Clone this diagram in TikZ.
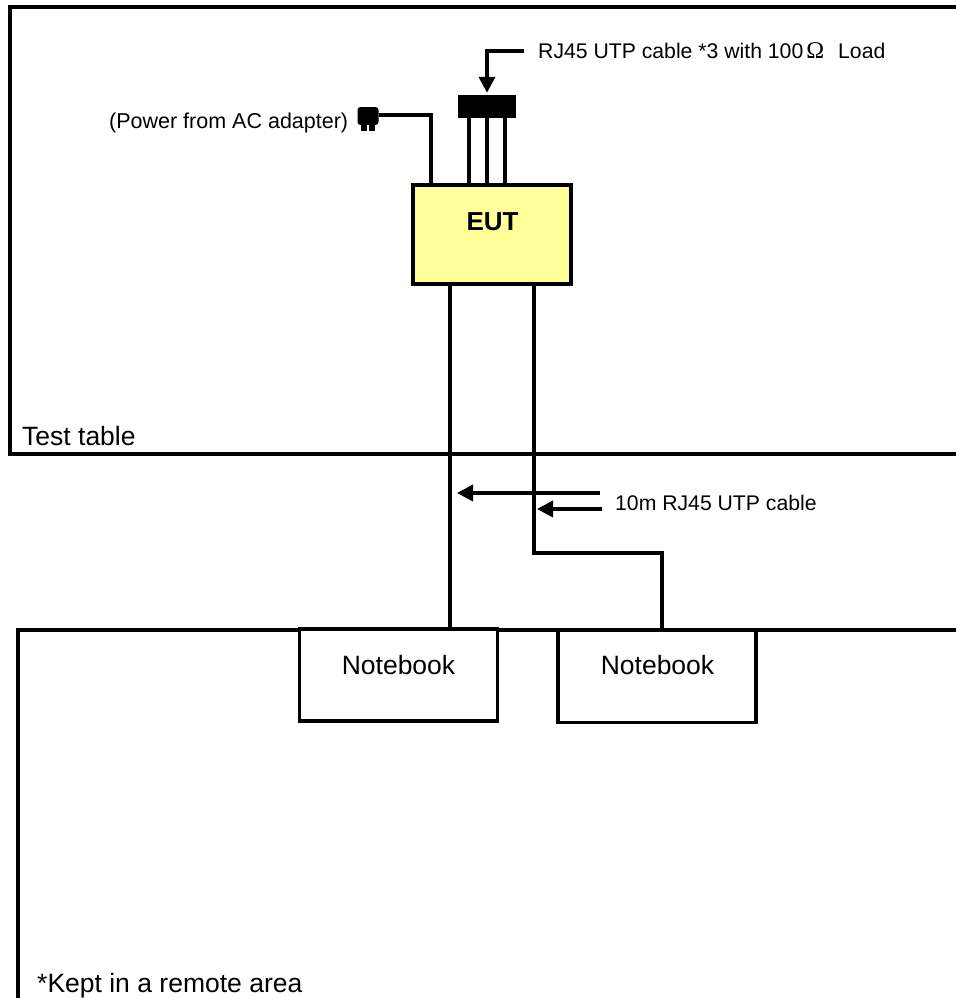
\documentclass[tikz,border=0pt]{standalone}
\usepackage{fontspec}
\setmainfont{Liberation Sans}
\newfontfamily\symbfont{Liberation Serif}
\usetikzlibrary{arrows.meta}
\definecolor{eutyellow}{HTML}{FFFF99}

\begin{document}
\begin{tikzpicture}[x=1pt, y=-1pt,
    every node/.style={font=\fontsize{21.2}{25}\selectfont, inner sep=0pt},
    biglabel/.style={font=\fontsize{26.5}{30}\selectfont},
    wire/.style={line width=4pt, line join=miter},
    area/.style={line width=4.4pt},
    pointer/.style={line width=3.6pt, -{Triangle[length=16pt, width=16pt]}},
    unitbox/.style={draw, line width=3.6pt, fill=white, minimum width=198pt, minimum height=92pt}]
    \useasboundingbox (0,0) rectangle (956,998);

    % Areas
    \coordinate (tabletopright) at (956,7);
    \coordinate (tabletopleft) at (10,7);
    \coordinate (tablebottomleft) at (10,454);
    \coordinate (tablebottomright) at (956,454);
    \coordinate (remotetopright) at (956,630);
    \coordinate (remotetopleft) at (18,630);
    \coordinate (remotebottomleft) at (18,998);
    \draw[area] (tabletopright) -- (tabletopleft) -- (tablebottomleft) -- (tablebottomright);
    \draw[area] (remotetopright) -- (remotetopleft) -- (remotebottomleft);
    \node[biglabel, anchor=base west] (tablelabel) at (22,445) {Test table};
    \node[biglabel, anchor=base west] (remotelabel) at (37,992) {*Kept in a remote area};

    % Units
    \node[draw, line width=3.6pt, fill=eutyellow, minimum width=158pt, minimum height=99pt] (eut) at (492,234.5) {};
    \node[anchor=base, font=\fontsize{26}{30}\selectfont\bfseries] (eutlabel) at (492.5,230) {EUT};
    \node[unitbox] (notebooka) at (398.5,675) {};
    \node[unitbox] (notebookb) at (657,676.5) {};
    \node[biglabel, anchor=base] (notebookalabel) at (398.5,674) {Notebook};
    \node[biglabel, anchor=base] (notebookblabel) at (657.5,674) {Notebook};

    % Load and plug
    \node[fill=black, minimum width=58pt, minimum height=23pt] (load) at (487,106.5) {};
    \node[fill=black, rounded corners=3pt, minimum width=21pt, minimum height=18pt] (plug) at (368,116) {};
    \node[fill=black, minimum width=6pt, minimum height=8pt] (pina) at (363.5,127) {};
    \node[fill=black, minimum width=6pt, minimum height=8pt] (pinb) at (371.5,127) {};

    % Cables
    \coordinate (powerdrop) at (431,115);
    \coordinate (loadleft) at (469,0);
    \coordinate (loadright) at (505,0);
    \coordinate (cablea) at (450,0);
    \coordinate (cableb) at (534,0);
    \coordinate (cablebbendl) at (534,553);
    \coordinate (cablebbendr) at (662,553);
    \draw[wire] (plug.east |- powerdrop) -- (powerdrop) -- (eut.north -| powerdrop);
    \draw[wire] (load.south -| loadleft) -- (eut.north -| loadleft);
    \draw[wire] (load.south) -- (eut.north -| load.south);
    \draw[wire] (load.south -| loadright) -- (eut.north -| loadright);
    \draw[wire, shorten >=-3pt] (eut.south -| cablea) -- (notebooka.north -| cablea);
    \draw[wire] (eut.south -| cableb) -- (cablebbendl) -- (cablebbendr) -- (notebookb.north -| cablebbendr);

    % Labels and pointers
    \node[anchor=base west, font=\fontsize{21.5}{25}\selectfont] (powerlabel) at (109,128) {(Power from AC adapter)};
    \node[anchor=base west] (loadlabel) at (538,59) {RJ45 UTP cable *3 with 100\kern3pt{\symbfont\fontsize{24}{25}\selectfont Ω}\kern14pt Load};
    \node[anchor=base west] (cablelabel) at (615,510) {10m RJ45 UTP cable};
    \coordinate (loadstart) at (524,51);
    \coordinate (cablestarta) at (600,493);
    \coordinate (cablestartb) at (602,509);
    \coordinate (cableenda) at (457,493);
    \coordinate (cableendb) at (537,509);
    \draw[pointer, shorten >=2pt] (loadstart) -- (load.north |- loadstart) -- (load.north);
    \draw[pointer] (cablestarta) -- (cableenda);
    \draw[pointer] (cablestartb) -- (cableendb);
\end{tikzpicture}
\end{document}
